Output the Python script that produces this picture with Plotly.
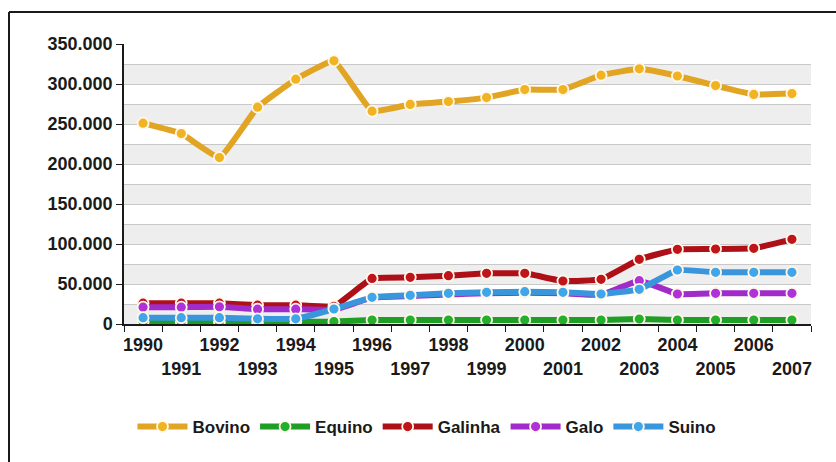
import plotly.graph_objects as go

years = [str(y) for y in range(1990, 2008)]
tick_labels = [y if int(y) % 2 == 0 else "<br>" + y for y in years]

bovino = [251000, 238000, 208000, 271000, 306000, 329000, 266000, 274500, 278000,
          283000, 293000, 293000, 311000, 319000, 310000, 298000, 287000, 288000]
equino = [3000, 3000, 3000, 3000, 3000, 3000, 5000, 5000, 5000,
          5000, 5000, 5000, 5000, 6250, 5000, 5000, 5000, 5000]
galinha = [26000, 26000, 26000, 23500, 23500, 22000, 57000, 58300, 60400,
           63300, 63300, 53750, 55800, 80800, 93300, 93750, 94600, 105800]
galo = [21000, 21000, 21500, 18500, 18500, 18000, 33000, 35000, 37000,
        38500, 39000, 38500, 36500, 54200, 37500, 38300, 38300, 38300]
suino = [7900, 7900, 7900, 6500, 6500, 18750, 33300, 35800, 38300,
         39600, 40400, 39600, 37500, 43300, 67500, 64600, 64600, 64600]

series = [
    ("Bovino", bovino, "#E2A423", "#F2B322"),
    ("Equino", equino, "#1E9E22", "#22B02A"),
    ("Galinha", galinha, "#AE1018", "#C0141C"),
    ("Galo", galo, "#A02BC8", "#B030DA"),
    ("Suino", suino, "#3A96DC", "#3FA6EC"),
]

FONT = "Liberation Sans, Arial, sans-serif"

fig = go.Figure()
for name, vals, lc, mc in series:
    fig.add_trace(go.Scatter(
        x=years, y=vals, name=name, mode="lines+markers",
        line=dict(color=lc, width=6, shape="spline", smoothing=0.3),
        marker=dict(size=11, color=mc, line=dict(color="#FFF8E8", width=1.8)),
    ))

# alternating bands
shapes = []
for lo in range(0, 350000, 50000):
    shapes.append(dict(type="rect", xref="paper", yref="y", x0=0, x1=1,
                       y0=lo, y1=lo + 25000, fillcolor="#EEEEEE",
                       line=dict(width=0), layer="below"))
# outer frame: top and left edges (right/bottom fall outside the picture)
px = lambda p: (p - 124) / 687
py = lambda p: (324 - p) / 280
shapes.append(dict(type="line", xref="paper", yref="paper",
                   x0=px(9), x1=px(900), y0=py(12), y1=py(12),
                   line=dict(color="#1A1A1A", width=2)))
shapes.append(dict(type="line", xref="paper", yref="paper",
                   x0=px(9), x1=px(9), y0=py(12), y1=py(520),
                   line=dict(color="#1A1A1A", width=2)))

fig.update_layout(
    width=836, height=462,
    margin=dict(l=124, r=25, t=44, b=138),
    paper_bgcolor="white", plot_bgcolor="white",
    separators=",.",
    shapes=shapes,
    font=dict(family=FONT, color="#1A1A1A"),
    legend=dict(orientation="h", x=0.441, xanchor="center",
                y=py(427), yanchor="middle",
                font=dict(size=17, family=FONT, weight="bold", color="#1A1A1A"),
                itemwidth=50, bgcolor="rgba(0,0,0,0)"),
    xaxis=dict(type="category", tickmode="array", tickvals=years, ticktext=tick_labels,
               tickson="boundaries", ticks="outside", ticklen=6, tickcolor="#1A1A1A",
               showline=True, linecolor="#1A1A1A", linewidth=1.5, showgrid=False,
               tickangle=0, range=[-0.5, 17.5], ticklabelstandoff=4,
               tickfont=dict(size=18, family=FONT, weight="bold", color="#1A1A1A")),
    yaxis=dict(range=[0, 350000], dtick=50000, tick0=0, tickformat=",d",
               ticks="outside", ticklen=6, tickcolor="#1A1A1A",
               showline=True, linecolor="#1A1A1A", linewidth=1.5,
               showgrid=True, gridcolor="#C8C8C8", gridwidth=1,
               minor=dict(dtick=25000, showgrid=True, gridcolor="#C8C8C8", gridwidth=1),
               zeroline=False,
               tickfont=dict(size=18, family=FONT, weight="bold", color="#1A1A1A")),
)

fig.write_html("out.html")
